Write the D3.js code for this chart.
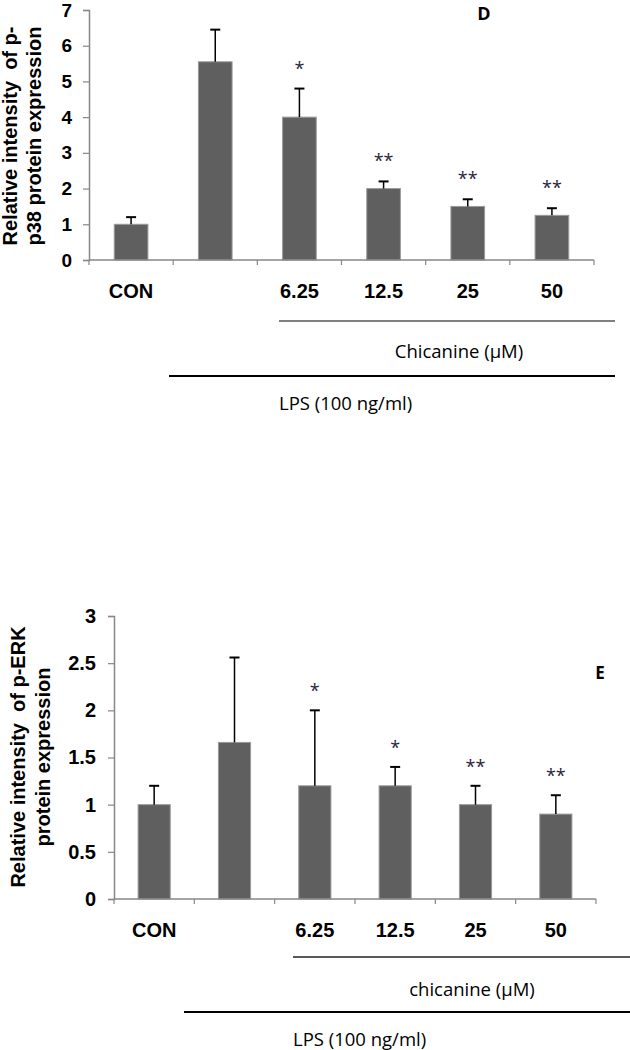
<!DOCTYPE html>
<html>
<head>
<meta charset="utf-8">
<script src="https://cdn.jsdelivr.net/npm/d3@7/dist/d3.min.js"></script>
<style>
  html, body { margin: 0; padding: 0; background: #fff; }
  svg { display: block; }
</style>
</head>
<body>
<svg id="chart" width="630" height="1050"></svg>
<script>
// ---------- data ----------
const categories = ["CON", "", "6.25", "12.5", "25", "50"];

const p38Values = [1.0, 5.55, 4.0, 2.0, 1.5, 1.25];
const p38Errors = [0.2, 0.9, 0.8, 0.2, 0.2, 0.2];
const p38Sig    = ["", "", "*", "**", "**", "**"];
const p38Ticks  = [0, 1, 2, 3, 4, 5, 6, 7];

const erkValues = [1.0, 1.66, 1.2, 1.2, 1.0, 0.9];
const erkErrors = [0.2, 0.9, 0.8, 0.2, 0.2, 0.2];
const erkSig    = ["", "", "*", "*", "**", "**"];
const erkTicks  = [0, 0.5, 1, 1.5, 2, 2.5, 3];

// ---------- drawing ----------
const svg = d3.select("#chart");
const ARIAL = "'Liberation Sans', Arial, sans-serif";
const CAL = "'Open Sans', 'Noto Sans', sans-serif";

function panel(cfg) {
  const g = svg.append("g");
  const idx = categories.map((d, i) => i);
  const x = d3.scaleBand().domain(idx).range([cfg.x0, cfg.x1]).paddingInner(0).paddingOuter(0);
  const y = d3.scaleLinear().domain([0, cfg.yMax]).range([cfg.y0, cfg.yTop]);
  const bw = x.bandwidth() * 0.4;

  // y axis
  const ya = d3.axisLeft(y).tickValues(cfg.ticks).tickSize(6).tickPadding(cfg.tickPad)
    .tickFormat(d => String(d));
  const yg = g.append("g").attr("transform", `translate(${cfg.x0},0)`).call(ya);
  yg.select(".domain").attr("stroke", "#878787").attr("stroke-width", 1.5);
  yg.selectAll(".tick line").attr("stroke", "#878787").attr("stroke-width", 1.2);
  yg.selectAll(".tick text").attr("fill", "#000").style("font-family", ARIAL)
    .style("font-weight", "bold").style("font-size", cfg.tickFont + "px");

  // x axis (labels at band centres, ticks at band edges)
  const xa = d3.axisBottom(x).tickSize(0).tickPadding(cfg.labelPad).tickFormat(i => categories[i]);
  const xg = g.append("g").attr("transform", `translate(0,${cfg.y0})`).call(xa);
  xg.select(".domain").remove();
  xg.selectAll(".tick text").attr("fill", "#000").style("font-family", ARIAL)
    .style("font-weight", "bold").style("font-size", "20px");

  // bars
  g.selectAll("rect.bar").data(cfg.values).enter().append("rect")
    .attr("class", "bar")
    .attr("x", (d, i) => x(i) + x.bandwidth() / 2 - bw / 2)
    .attr("y", d => y(d))
    .attr("width", bw)
    .attr("height", d => y(0) - y(d))
    .attr("fill", "#5f5f5f")
    .attr("stroke", "#9a9a9a")
    .attr("stroke-width", 1);

  // x baseline and boundary ticks
  g.append("line").attr("x1", cfg.x0).attr("x2", cfg.x1).attr("y1", cfg.y0).attr("y2", cfg.y0)
    .attr("stroke", "#878787").attr("stroke-width", 1.5);
  const edges = idx.map(i => x(i)).concat([cfg.x1]);
  g.selectAll("line.xt").data(edges).enter().append("line")
    .attr("x1", d => d).attr("x2", d => d).attr("y1", cfg.y0).attr("y2", cfg.y0 + 5)
    .attr("stroke", "#878787").attr("stroke-width", 1.2);

  // error bars (upper only)
  const eg = g.selectAll("g.err").data(cfg.values).enter().append("g").attr("class", "err");
  eg.append("line")
    .attr("x1", (d, i) => x(i) + x.bandwidth() / 2).attr("x2", (d, i) => x(i) + x.bandwidth() / 2)
    .attr("y1", d => y(d)).attr("y2", (d, i) => y(d + cfg.errors[i]))
    .attr("stroke", "#000").attr("stroke-width", 1.5);
  eg.append("line")
    .attr("x1", (d, i) => x(i) + x.bandwidth() / 2 - 5).attr("x2", (d, i) => x(i) + x.bandwidth() / 2 + 5)
    .attr("y1", (d, i) => y(d + cfg.errors[i])).attr("y2", (d, i) => y(d + cfg.errors[i]))
    .attr("stroke", "#000").attr("stroke-width", 2);

  // significance stars
  g.selectAll("text.sig").data(cfg.sig).enter().append("text")
    .attr("class", "sig")
    .attr("x", (d, i) => x(i) + x.bandwidth() / 2)
    .attr("y", (d, i) => y(cfg.values[i] + cfg.errors[i]) - cfg.sigOff)
    .attr("text-anchor", "middle")
    .style("font-family", CAL).style("font-size", "18px").attr("fill", "#2a2440")
    .text(d => d);

  // y axis title
  cfg.title.forEach((t, k) => {
    g.append("text")
      .attr("transform", `translate(${cfg.titleX[k]},${cfg.titleY}) rotate(-90)`)
      .attr("text-anchor", "middle")
      .style("font-family", ARIAL).style("font-weight", "bold").style("font-size", "20px")
      .attr("fill", "#000").attr("xml:space", "preserve")
      .text(t);
  });

  // panel letter
  g.append("text").attr("x", cfg.letter[1]).attr("y", cfg.letter[2]).attr("text-anchor", "middle")
    .style("font-family", CAL).style("font-weight", "bold").style("font-size", cfg.letter[3] + "px")
    .attr("fill", "#000").text(cfg.letter[0]);

  // treatment brackets
  g.append("line").attr("x1", cfg.chic[0]).attr("x2", cfg.chic[1]).attr("y1", cfg.chic[2]).attr("y2", cfg.chic[2])
    .attr("stroke", cfg.chic[3]).attr("stroke-width", cfg.chic[4]);
  g.append("text").attr("x", cfg.chicText[1]).attr("y", cfg.chicText[2]).attr("text-anchor", "middle")
    .style("font-family", CAL).style("font-size", "18.5px").attr("fill", "#000").text(cfg.chicText[0]);
  g.append("line").attr("x1", cfg.lps[0]).attr("x2", cfg.lps[1]).attr("y1", cfg.lps[2]).attr("y2", cfg.lps[2])
    .attr("stroke", "#000").attr("stroke-width", 2);
  g.append("text").attr("x", cfg.lpsText[1]).attr("y", cfg.lpsText[2]).attr("text-anchor", "start")
    .style("font-family", CAL).style("font-size", "18.5px").attr("fill", "#000").text(cfg.lpsText[0]);
}

panel({
  x0: 89, x1: 594, y0: 260, yTop: 10, yMax: 7,
  values: p38Values, errors: p38Errors, sig: p38Sig, ticks: p38Ticks,
  tickPad: 11, tickFont: 19, labelPad: 24, sigOff: 14,
  title: ["Relative intensity  of p-", "p38 protein expression"], titleX: [17, 41], titleY: 136,
  letter: ["D", 484, 20, 18],
  chic: [279, 615, 321, "#808080", 2], chicText: ["Chicanine (\u00b5M)", 459, 358],
  lps: [169, 615, 376], lpsText: ["LPS (100 ng/ml)", 279, 410]
});

panel({
  x0: 114, x1: 596, y0: 899, yTop: 616, yMax: 3,
  values: erkValues, errors: erkErrors, sig: erkSig, ticks: erkTicks,
  tickPad: 12, tickFont: 20, labelPad: 24, sigOff: 13,
  title: ["Relative intensity  of p-ERK", "protein expression"], titleX: [25, 50], titleY: 757,
  letter: ["E", 600, 679, 17],
  chic: [293, 630, 957, "#222", 1.5], chicText: ["chicanine (\u00b5M)", 472, 996],
  lps: [184, 630, 1012], lpsText: ["LPS (100 ng/ml)", 293, 1046]
});
</script>
</body>
</html>
